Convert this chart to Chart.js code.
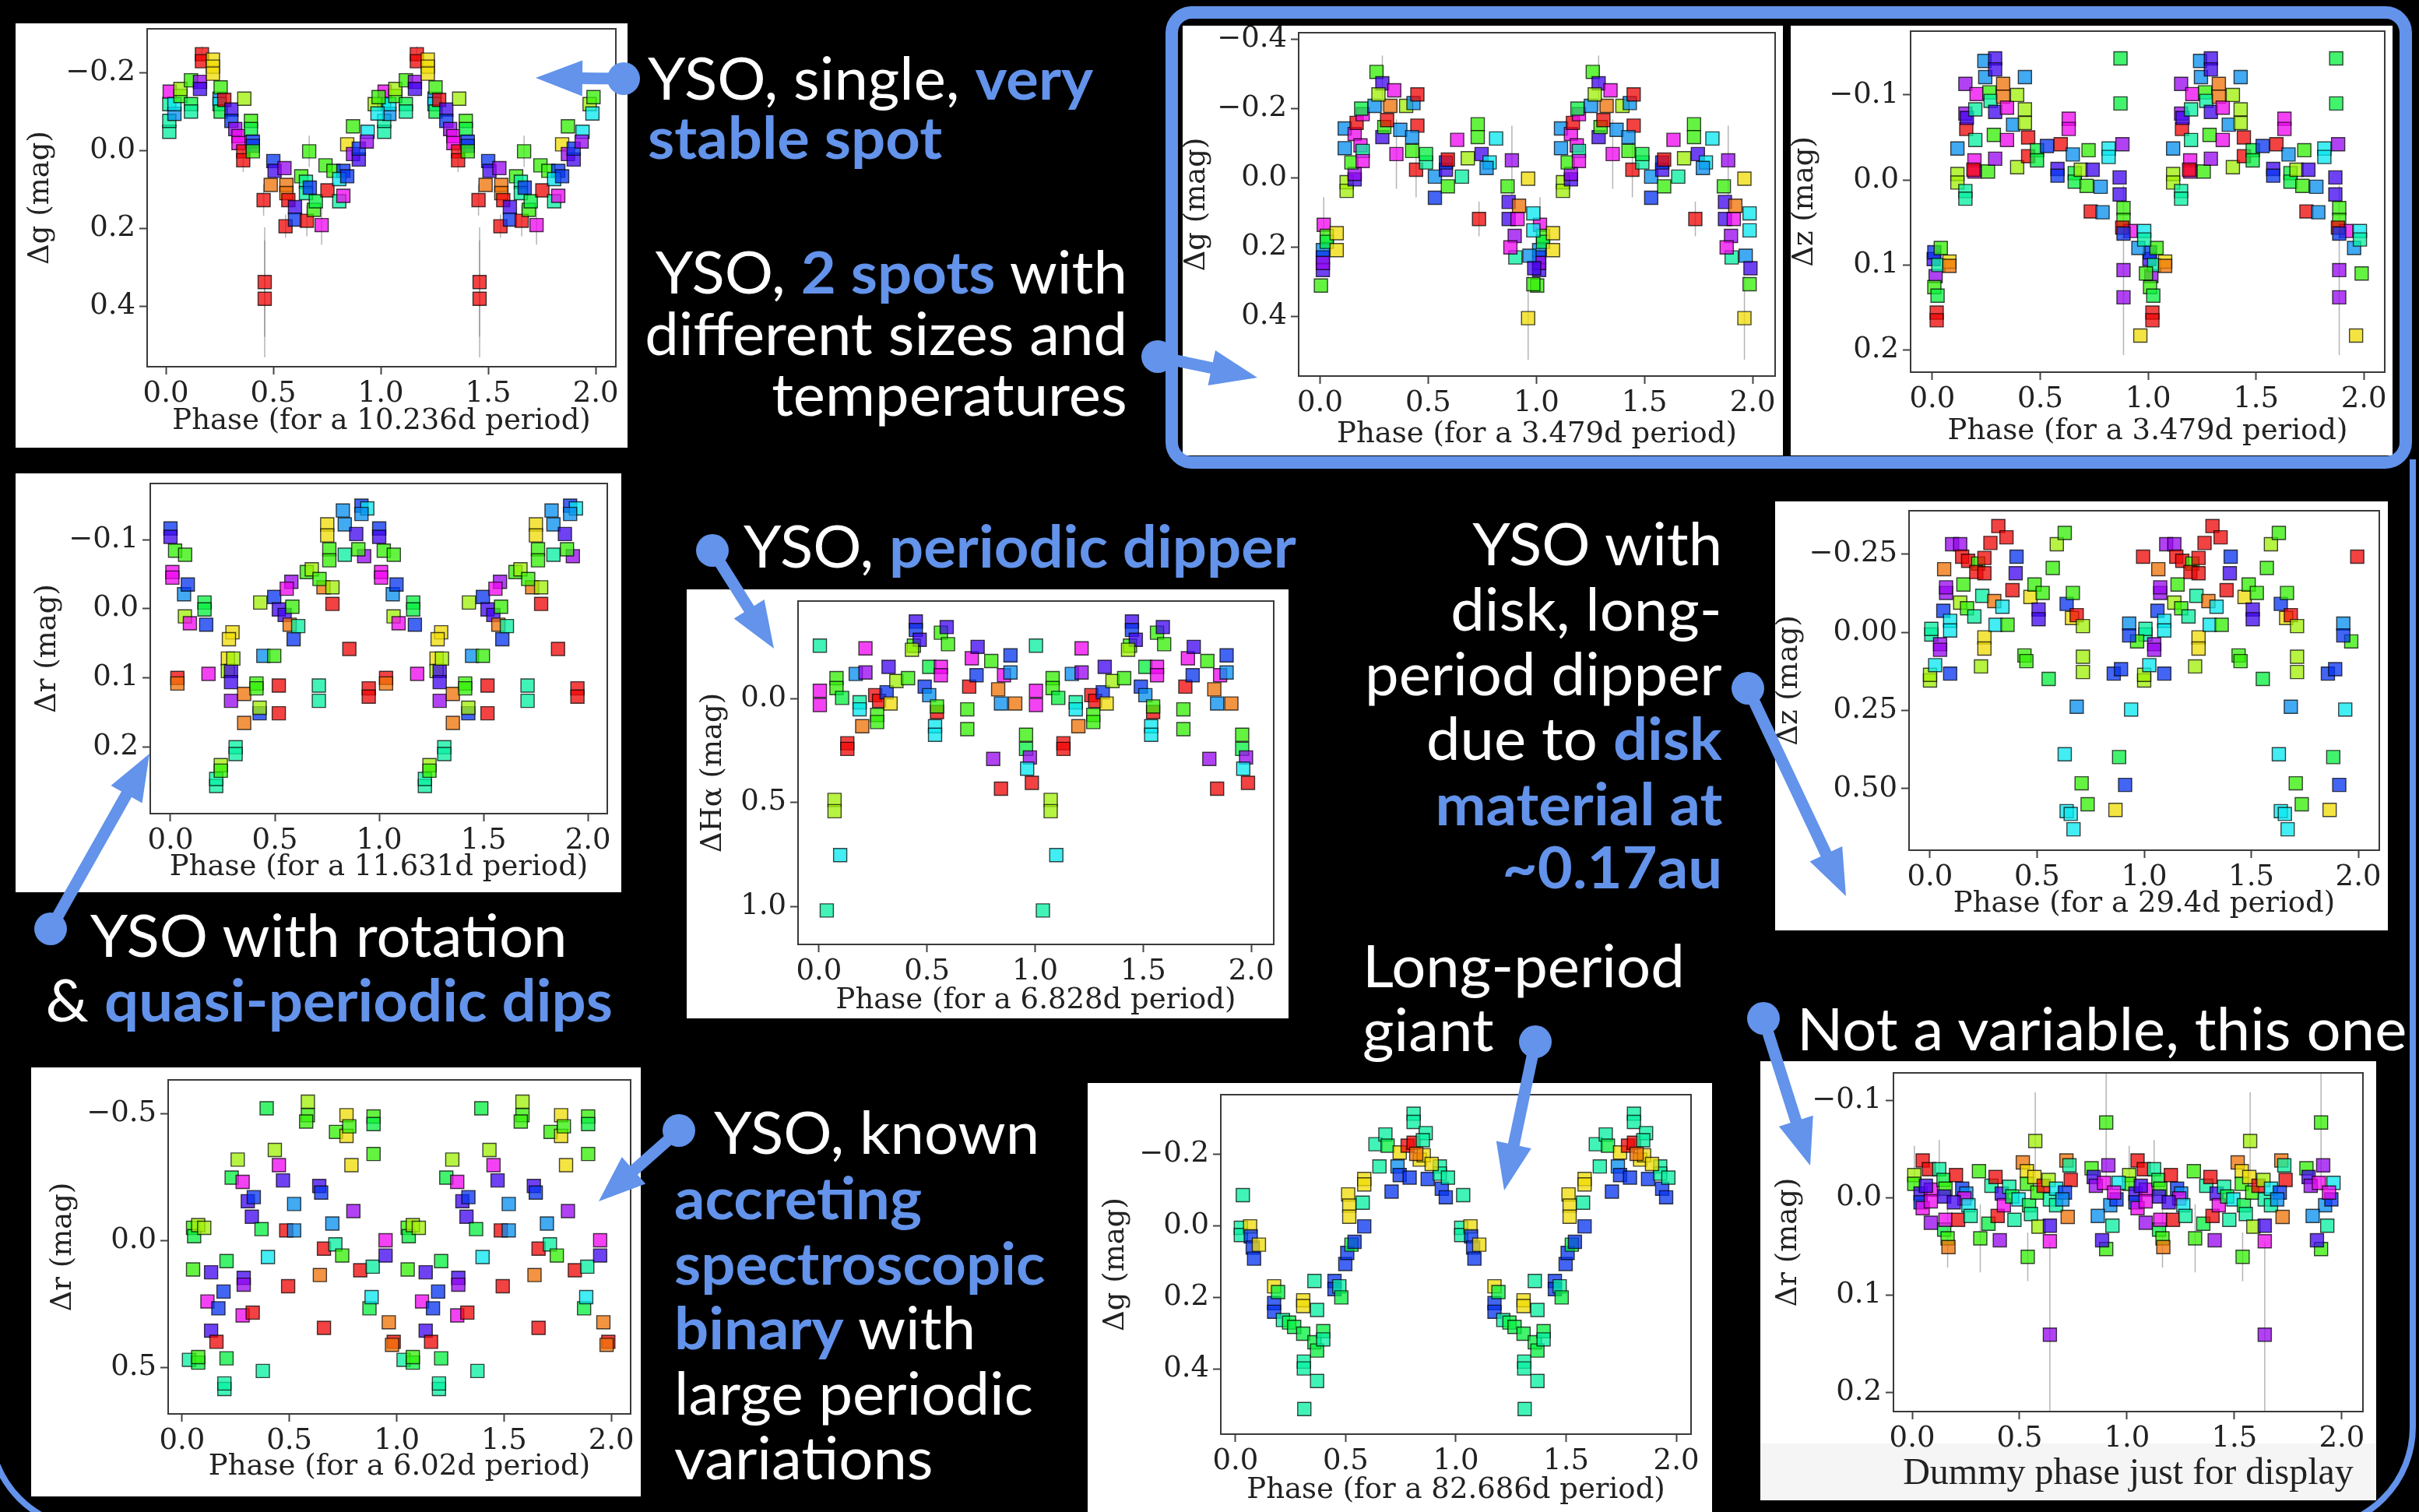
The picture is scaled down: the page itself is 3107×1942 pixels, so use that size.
<!DOCTYPE html>
<html>
<head>
<meta charset="utf-8">
<script src="https://cdn.jsdelivr.net/npm/chart.js@4.4.1/dist/chart.umd.min.js"></script>
<style>
  html, body { margin: 0; padding: 0; background: #000; }
  body { width: 3107px; height: 1942px; position: relative; overflow: hidden; }
  .panel { position: absolute; background: #fff; }
  .panel canvas { display: block; }
  .note { position: absolute; white-space: nowrap; font-family: Lato, "Noto Sans", sans-serif;
          font-size: 75px; color: #fff; z-index: 4; }
  .note b { color: #6393ea; font-weight: 700; }
  .bl { display: inline-block; width: 0; height: 0; }
  #deco { position: absolute; left: 0; top: 0; z-index: 5; }
</style>
</head>
<body>
<svg id="deco" width="3107" height="1942" xmlns="http://www.w3.org/2000/svg"></svg>
<script>
// light curves: [phase, delta mag, epoch index (colour), optional error]
const p1Points = [
  [0.016,-0.048,6],[0.016,-0.076,6],[0.016,-0.119,6],[0.018,-0.151,12],[0.04,-0.094,8],[0.04,-0.119,7],
  [0.068,-0.14,4],[0.068,-0.158,3],[0.117,-0.119,5],[0.117,-0.10,6],[0.117,-0.18,4],[0.159,-0.176,11],
  [0.159,-0.158,10],[0.168,-0.247,0,0.02],[0.168,-0.229,0],[0.219,-0.233,2],[0.219,-0.215,2],[0.219,-0.197,2],
  [0.25,-0.133,8],[0.25,-0.119,7],[0.255,-0.162,4],[0.255,-0.10,5],[0.272,-0.13,0],[0.305,-0.105,10],
  [0.305,-0.076,9],[0.323,-0.055,11],[0.338,-0.037,12],[0.338,-0.019,12],[0.36,0.002,0],[0.36,0.025,0,0.03],
  [0.365,-0.133,3],[0.396,-0.076,4],[0.396,-0.055,5],[0.405,-0.023,9],[0.405,-0.012,9],[0.405,0.002,4],
  [0.455,0.127,0,0.04],[0.46,0.337,0,0.14],[0.46,0.38,0,0.15],[0.488,0.088,1],[0.5,0.027,9],[0.506,0.052,10],
  [0.552,0.045,11],[0.561,0.088,1],[0.561,0.109,1],[0.57,0.127,0],[0.557,0.194,0,0.03],[0.601,0.145,10],
  [0.601,0.177,9],[0.63,0.066,4],[0.652,0.08,6],[0.652,0.109,6],[0.67,0.095,9],[0.667,0.002,4,0.04],
  [0.656,0.18,0,0.04],[0.689,0.152,4],[0.698,0.13,5],[0.725,0.191,12,0.05],[0.743,0.038,4],[0.752,0.102,0],
  [0.78,0.052,4],[0.807,0.13,6],[0.826,0.116,12],[0.826,0.052,9],[0.807,0.073,7],[0.844,0.066,9],
  [0.844,-0.016,2],[0.871,-0.062,4],[0.871,0.009,11],[0.898,0.023,10],[0.898,-0.005,9],[0.939,-0.048,7],
  [0.935,-0.023,11],[0.972,-0.119,3],[0.99,-0.137,4],[0.985,-0.095,7]
];
const p2aPoints = [
  [0.013,0.208,8],[0.013,0.229,9],[0.013,0.265,10],[0.013,0.245,11],[0.004,0.31,4],[0.017,0.135,12,0.08],
  [0.031,0.167,4],[0.031,0.184,5],[0.077,0.159,2],[0.077,0.208,2],[0.114,-0.143,8],[0.114,-0.086,8],
  [0.123,0.012,3],[0.123,0.037,3],[0.16,0.004,10],[0.16,-0.012,11],[0.145,-0.045,4],[0.16,-0.127,12],
  [0.187,-0.094,12],[0.169,-0.159,0],[0.197,-0.184,12],[0.19,-0.2,5],[0.197,-0.078,6],[0.197,-0.049,12],
  [0.252,-0.208,8],[0.261,-0.306,4],[0.288,-0.273,10,0.08],[0.288,-0.118,10],[0.343,-0.253,12],[0.325,-0.208,1],
  [0.297,-0.147,4],[0.27,-0.241,3],[0.353,-0.069,12,0.1],[0.31,-0.167,0],[0.371,-0.139,8],[0.398,-0.208,3],
  [0.432,-0.216,8],[0.45,-0.241,0],[0.45,-0.151,0],[0.426,-0.078,4],[0.426,-0.118,8],[0.444,-0.024,0,0.08],
  [0.49,-0.045,6],[0.49,-0.069,5],[0.531,-0.004,8],[0.531,0.057,9],[0.582,-0.024,10],[0.591,0.024,4],
  [0.582,-0.045,9],[0.591,-0.053,0],[0.634,-0.11,12],[0.656,-0.004,6],[0.683,-0.057,3],[0.729,-0.155,4],
  [0.729,-0.118,4],[0.735,0.118,0,0.05],[0.747,-0.069,10],[0.814,-0.114,7],[0.784,-0.045,7],[0.77,-0.029,8],
  [0.887,-0.051,11,0.1],[0.867,0.024,4],[0.872,0.069,10],[0.872,0.118,10],[0.913,0.118,12],[0.9,0.167,11],
  [0.903,0.229,6],[0.962,0.002,2],[0.962,0.404,2,0.12],[0.986,0.102,7],[0.986,0.151,7],[0.968,0.224,8],
  [0.986,0.306,4],[0.99,0.26,10],[0.92,0.08,1],[0.88,0.2,12]
];
const p2bPoints = [
  [0.006,0.093,10],[0.009,0.085,9],[0.015,0.113,11],[0.009,0.126,4],[0.024,0.136,5],[0.02,0.156,0],
  [0.02,0.165,0],[0.028,0.1,6],[0.039,0.08,4],[0.079,0.096,2],[0.079,0.101,1],[0.116,-0.037,8],
  [0.116,-0.007,3],[0.116,0.003,3],[0.153,0.013,6],[0.153,0.022,6],[0.153,-0.078,11],[0.153,-0.113,11],
  [0.157,-0.06,0],[0.16,-0.073,10],[0.199,-0.083,6],[0.199,-0.047,6],[0.195,-0.023,12],[0.195,-0.01,12],
  [0.19,-0.012,0],[0.205,-0.101,12],[0.241,-0.14,8],[0.245,-0.121,8],[0.258,-0.01,4],[0.264,-0.103,4],
  [0.27,-0.093,6],[0.291,-0.143,10],[0.291,-0.13,10],[0.291,-0.08,10],[0.291,-0.025,11],[0.285,-0.053,4],
  [0.328,-0.113,1],[0.328,-0.098,1],[0.346,-0.085,12],[0.346,-0.047,12],[0.374,-0.065,8],[0.393,-0.015,3],
  [0.393,-0.1,3],[0.429,-0.083,3],[0.429,-0.067,3],[0.429,-0.121,8],[0.444,-0.05,0],[0.444,-0.028,0],
  [0.485,-0.035,5],[0.485,-0.023,5],[0.531,-0.04,9],[0.595,-0.042,0],[0.632,-0.072,12],[0.632,-0.06,12],
  [0.58,-0.013,10],[0.58,-0.005,9],[0.651,-0.03,8],[0.66,-0.008,5],[0.66,0.002,5],[0.688,-0.012,3],
  [0.715,0.007,4],[0.724,-0.035,4],[0.743,-0.012,10],[0.734,0.037,0],[0.78,0.008,8],[0.817,-0.037,7],
  [0.817,-0.027,7],[0.789,0.038,8],[0.872,-0.143,5],[0.872,-0.09,5],[0.881,-0.042,11],[0.868,-0.003,10],
  [0.868,0.017,10],[0.886,0.033,4],[0.886,0.047,4],[0.886,0.106,11,0.1],[0.886,0.138,11],[0.918,0.06,12],
  [0.88,0.056,0],[0.886,0.063,9],[0.955,0.08,8],[0.982,0.06,7],[0.982,0.07,6],[0.964,0.183,2],[0.99,0.11,4]
];
const p3Points = [
  [0.0,-0.116,9],[0.0,-0.104,10],[0.009,-0.053,12],[0.009,-0.045,12],[0.022,-0.084,4],[0.07,-0.078,4],
  [0.065,-0.021,8],[0.083,-0.035,9],[0.069,0.011,3],[0.093,0.021,12],[0.033,0.1,0],[0.033,0.108,1],
  [0.163,-0.009,5],[0.163,0.001,5],[0.171,0.023,9],[0.182,0.094,12],[0.219,0.256,6],[0.219,0.246,6],
  [0.241,0.226,3],[0.241,0.234,4],[0.275,0.072,2],[0.297,0.034,2],[0.28,0.044,2],[0.275,0.09,3],
  [0.29,0.09,10],[0.29,0.106,10],[0.29,0.133,11],[0.312,0.2,6],[0.312,0.21,6],[0.301,0.072,3],
  [0.353,0.123,1],[0.353,0.165,1],[0.412,0.108,4],[0.412,0.115,4],[0.427,0.151,9],[0.427,0.143,3],
  [0.43,-0.009,3],[0.445,0.068,8],[0.497,0.068,4],[0.519,0.111,0],[0.519,0.151,0],[0.497,-0.017,9],
  [0.519,0.001,10],[0.547,0.009,10],[0.571,0.023,1],[0.584,-0.003,4],[0.59,0.044,9],[0.612,0.025,6],
  [0.579,-0.039,11],[0.557,-0.029,12],[0.653,-0.053,4],[0.677,-0.057,3],[0.733,-0.031,1],[0.714,-0.043,4],
  [0.711,0.111,6],[0.711,0.133,6],[0.751,-0.122,2],[0.751,-0.106,2],[0.761,-0.086,4],[0.761,-0.07,4],
  [0.776,-0.007,0],[0.776,-0.031,3],[0.857,0.058,0],[0.826,-0.142,8],[0.835,-0.122,8],[0.835,-0.078,6],
  [0.915,-0.149,9],[0.943,-0.145,7],[0.915,-0.137,8],[0.89,-0.108,10],[0.928,-0.076,11],[0.9,-0.086,4],
  [0.95,0.115,0],[0.95,0.127,0]
];
const p4Points = [
  [0.004,-0.254,6],[0.004,-0.037,12],[0.004,0.031,12],[0.036,1.018,6],[0.072,0.487,3],[0.072,0.541,3],
  [0.098,0.752,7],[0.081,-0.098,4],[0.081,-0.05,4],[0.107,-0.003,5],[0.131,0.215,0],[0.131,0.242,0],
  [0.17,-0.118,8],[0.188,0.018,6],[0.188,0.052,7],[0.215,-0.125,11],[0.215,-0.241,12],[0.2,0.133,1],
  [0.26,-0.016,0],[0.278,0.011,0],[0.269,0.079,4],[0.269,0.113,4],[0.313,-0.03,9],[0.322,-0.152,10],
  [0.331,0.024,2],[0.358,-0.084,3],[0.412,-0.098,4],[0.439,-0.254,4],[0.448,-0.37,10],[0.448,-0.329,9],
  [0.466,-0.282,10],[0.43,-0.234,3],[0.489,-0.057,9],[0.51,-0.016,8],[0.537,0.133,7],[0.537,0.174,7],
  [0.546,0.065,0],[0.546,0.038,4],[0.51,-0.152,5],[0.564,-0.152,12],[0.564,-0.112,12],[0.564,-0.316,4],
  [0.591,-0.343,10],[0.597,-0.261,4],[0.686,0.052,4],[0.686,0.147,4],[0.695,-0.057,0],[0.707,-0.193,12],
  [0.734,-0.248,10],[0.729,-0.112,9],[0.797,-0.18,4],[0.806,0.29,11],[0.842,0.433,0],[0.829,-0.044,1],
  [0.842,0.024,8],[0.856,-0.112,12],[0.886,-0.207,9],[0.886,-0.125,8],[0.908,0.024,1],[0.958,0.174,4],
  [0.958,0.242,5],[0.976,0.283,11],[0.963,0.337,7],[0.985,0.405,0]
];
const p5Points = [
  [0.0,0.154,3],[0.0,0.136,3],[0.006,0.007,6],[0.006,-0.011,6],[0.024,0.105,7],[0.047,0.038,11],
  [0.047,0.056,11],[0.066,-0.202,1],[0.062,-0.069,9],[0.094,-0.037,7],[0.094,-0.006,7],[0.094,0.132,9],
  [0.075,-0.126,11],[0.075,-0.144,11],[0.103,-0.282,11],[0.141,-0.282,11],[0.15,-0.242,0],[0.178,-0.229,0],
  [0.156,-0.153,4],[0.141,-0.095,3],[0.173,-0.077,4],[0.207,-0.051,6],[0.225,-0.22,4],[0.216,-0.193,0],
  [0.254,-0.238,0],[0.254,-0.189,0],[0.244,-0.117,6],[0.238,0.109,3],[0.254,0.016,2],[0.254,0.052,2],
  [0.282,-0.286,0],[0.3,-0.1,1],[0.319,-0.34,0],[0.338,-0.082,7],[0.306,-0.024,7],[0.357,-0.304,0],
  [0.362,-0.024,4],[0.385,-0.135,0],[0.404,-0.242,9],[0.4,-0.189,10],[0.441,0.074,4],[0.45,0.092,4],
  [0.469,-0.113,2],[0.488,-0.153,4],[0.526,-0.126,4],[0.507,-0.073,10],[0.507,-0.042,10],[0.554,0.149,5],
  [0.573,-0.206,4],[0.592,-0.282,3],[0.629,-0.318,4],[0.629,0.39,7],[0.638,-0.091,9],[0.667,-0.126,4],
  [0.663,-0.046,2],[0.685,-0.055,0],[0.714,-0.02,3],[0.714,0.078,3],[0.714,0.127,3],[0.685,0.238,8],
  [0.638,0.572,7],[0.657,0.581,7],[0.67,0.63,7],[0.708,0.483,4],[0.736,0.55,4],[0.866,0.568,2],
  [0.883,0.399,5],[0.911,0.488,9],[0.858,0.132,9],[0.892,0.118,9],[0.93,-0.028,8],[0.939,0.247,7],
  [0.995,-0.242,0],[0.967,0.029,4],[0.93,0.01,9]
];
const p6Points = [
  [0.032,0.469,6],[0.075,0.48,5],[0.075,0.458,4],[0.051,-0.051,4],[0.056,-0.018,5],[0.075,-0.062,3],
  [0.103,-0.051,3],[0.051,0.113,4],[0.135,0.124,10],[0.135,0.354,10],[0.118,0.239,12],[0.16,0.398,0],
  [0.169,0.266,9],[0.193,0.2,9],[0.197,0.584,6],[0.197,0.562,6],[0.207,0.08,5],[0.207,0.463,5],
  [0.231,-0.249,5],[0.259,-0.32,3],[0.282,-0.232,12],[0.282,0.294,12],[0.287,0.146,10],[0.287,0.173,11],
  [0.329,0.283,0],[0.306,-0.156,10],[0.334,-0.172,9],[0.325,-0.095,10],[0.37,-0.046,5],[0.4,0.064,7],
  [0.376,0.513,6],[0.394,-0.522,5],[0.432,-0.358,3],[0.451,-0.298,12],[0.47,-0.238,10],[0.485,-0.041,0],
  [0.494,0.179,0],[0.522,-0.145,8],[0.522,-0.041,8],[0.586,-0.548,3],[0.586,-0.495,4],[0.578,-0.47,4],
  [0.639,-0.216,10],[0.648,-0.19,9],[0.661,0.031,0],[0.661,0.343,0],[0.642,0.135,1],[0.7,-0.068,8],
  [0.714,0.014,6],[0.746,0.058,4],[0.717,-0.429,4],[0.766,-0.495,2],[0.766,-0.413,2],[0.789,-0.298,2],
  [0.779,-0.451,4],[0.798,-0.117,11],[0.83,0.116,0],[0.892,-0.49,4],[0.892,-0.46,5],[0.892,-0.342,4],
  [0.888,0.102,6],[0.873,0.266,5],[0.883,0.222,7],[0.948,-0.002,12],[0.948,0.058,10],[0.963,0.321,1],
  [0.986,0.398,0],[0.978,0.41,1]
];
const p7Points = [
  [0.033,-0.085,6],[0.024,0.006,6],[0.024,0.026,6],[0.066,0.002,2],[0.069,0.03,9],[0.078,0.061,9],
  [0.084,0.092,9],[0.106,0.053,2],[0.175,0.169,2],[0.175,0.216,9],[0.175,0.24,9],[0.193,0.185,5],
  [0.215,0.263,6],[0.243,0.27,5],[0.266,0.282,5],[0.307,0.301,5],[0.307,0.208,2],[0.307,0.224,2],
  [0.31,0.379,6],[0.31,0.398,6],[0.312,0.511,6],[0.358,0.154,6],[0.358,0.325,5],[0.37,0.348,5],
  [0.37,0.433,6],[0.398,0.294,5],[0.398,0.317,6],[0.37,0.235,6],[0.449,0.154,9],[0.449,0.177,9],
  [0.471,0.169,6],[0.48,0.2,5],[0.498,0.107,9],[0.507,0.076,9],[0.511,-0.087,2],[0.516,-0.056,2],
  [0.516,-0.025,2],[0.526,0.053,5],[0.54,0.045,9],[0.577,-0.064,6],[0.584,0.002,9],[0.584,-0.13,2],
  [0.584,-0.115,2],[0.635,-0.227,6],[0.653,-0.165,6],[0.68,-0.254,6],[0.69,-0.223,5],[0.708,-0.095,9],
  [0.735,-0.165,8],[0.745,-0.204,2],[0.745,-0.141,9],[0.781,-0.223,0],[0.808,-0.231,0],[0.808,-0.312,6],
  [0.808,-0.289,6],[0.836,-0.184,2],[0.854,-0.196,2],[0.863,-0.258,6],[0.79,-0.134,9],[0.872,-0.13,9],
  [0.85,-0.238,6],[0.927,-0.165,6],[0.927,-0.145,6],[0.936,-0.103,9],[0.954,-0.079,9],[0.964,-0.134,6],
  [0.89,-0.172,2],[0.82,-0.2,1]
];
const p8Points = [
  [0.01,-0.023,3,0.03],[0.01,-0.014,4],[0.049,-0.038,0],[0.078,-0.029,0],[0.039,-0.004,10],[0.039,0.005,9],
  [0.049,0.011,12],[0.087,-0.008,12],[0.087,0.004,12],[0.087,0.026,11],[0.064,-0.012,10],[0.126,-0.029,6,0.03],
  [0.146,-0.018,5],[0.155,-0.009,4],[0.149,0.033,5],[0.165,0.042,4,0.03],[0.169,0.051,1],[0.155,0.023,12],
  [0.149,-0.001,10],[0.204,-0.023,0],[0.214,0.023,0],[0.233,-0.009,9],[0.252,-0.004,8],[0.243,0.001,12],
  [0.194,0.005,10],[0.262,0.008,7],[0.272,0.019,6],[0.311,-0.027,4],[0.317,0.042,4,0.035],[0.355,0.027,5],
  [0.369,-0.012,6],[0.388,-0.021,0],[0.398,0.019,0],[0.408,0.044,11],[0.417,-0.004,10],[0.427,0.008,12],
  [0.452,-0.011,6],[0.476,0.023,6],[0.466,-0.001,5],[0.495,0.002,7],[0.515,-0.036,1],[0.534,-0.027,2],
  [0.534,-0.014,4],[0.538,0.061,4,0.025],[0.544,0.008,5],[0.569,-0.021,2],[0.573,-0.058,3,0.05],[0.583,-0.005,4],
  [0.553,0.017,6],[0.588,0.03,3],[0.612,-0.012,0],[0.635,-0.018,3],[0.641,0.002,6],[0.641,0.141,11,0.095],
  [0.641,0.029,10],[0.641,0.045,12],[0.67,0.008,6],[0.67,-0.009,7],[0.718,-0.038,1],[0.724,0.02,1],
  [0.738,-0.018,0],[0.732,-0.033,6],[0.711,-0.005,9],[0.699,0.002,8],[0.835,-0.03,4],[0.845,-0.021,10],
  [0.855,-0.012,11],[0.893,-0.015,12],[0.903,-0.077,4,0.07],[0.903,0.053,4],[0.884,0.044,10],[0.913,-0.033,11],
  [0.922,0.008,8],[0.932,0.029,6],[0.864,0.019,8],[0.951,0.002,9],[0.961,-0.015,7],[0.94,-0.005,12]
];

const phaseTicks = [0, 0.5, 1.0, 1.5, 2.0];
const p1YTicks = [-0.2, 0, 0.2, 0.4];
const p2aYTicks = [-0.4, -0.2, 0, 0.2, 0.4];
const p2bYTicks = [-0.1, 0, 0.1, 0.2];
const p3YTicks = [-0.1, 0, 0.1, 0.2];
const p4YTicks = [0, 0.5, 1.0];
const p5YTicks = [-0.25, 0, 0.25, 0.5];
const p6YTicks = [-0.5, 0, 0.5];
const p7YTicks = [-0.2, 0, 0.2, 0.4];
const p8YTicks = [-0.1, 0, 0.1, 0.2];

const SERIF = '"DejaVu Serif", "Liberation Serif", serif';
const TIMES = '"Liberation Serif", "DejaVu Serif", serif';
const HUES = [0, 28, 55, 80, 108, 135, 160, 182, 205, 228, 255, 278, 300];
const BLUE = '#6393ea';

// panel boxes and plot areas in page pixels
const PANELS = [
  { pts: p1Points, box: [20, 30, 786, 545], plot: [189, 37, 791, 471], x: [-0.087, 2.094], y: [-0.312, 0.554],
    yt: p1YTicks, dec: 1, yl: 'Δg (mag)', xl: 'Phase (for a 10.236d period)', xPad: 15, yPad: 14 },
  { pts: p2aPoints, box: [1519, 33, 771, 552], plot: [1668, 42, 2280, 483], x: [-0.099, 2.104], y: [-0.419, 0.571],
    yt: p2aYTicks, dec: 1, yl: 'Δg (mag)', xl: 'Phase (for a 3.479d period)', xPad: 8, yPad: 0 },
  { pts: p2bPoints, box: [2300, 33, 773, 552], plot: [2454, 40, 3063, 478], x: [-0.101, 2.097], y: [-0.175, 0.226],
    yt: p2bYTicks, dec: 1, yl: 'Δz (mag)', xl: 'Phase (for a 3.479d period)', xPad: 12, yPad: 0 },
  { pts: p3Points, box: [20, 608, 778, 538], plot: [193, 621, 780, 1045], x: [-0.097, 2.093], y: [-0.181, 0.296],
    yt: p3YTicks, dec: 1, yl: 'Δr (mag)', xl: 'Phase (for a 11.631d period)', xPad: 13, yPad: 23 },
  { pts: p4Points, box: [882, 757, 773, 551], plot: [1025, 772, 1636, 1213], x: [-0.097, 2.104], y: [-0.468, 1.181],
    yt: p4YTicks, dec: 1, yl: 'ΔHα (mag)', xl: 'Phase (for a 6.828d period)', xPad: 4, yPad: 16 },
  { pts: p5Points, box: [2280, 644, 787, 551], plot: [2452, 656, 3056, 1092], x: [-0.098, 2.098], y: [-0.389, 0.697],
    yt: p5YTicks, dec: 2, yl: 'Δz (mag)', xl: 'Phase (for a 29.4d period)', xPad: 15, yPad: 0 },
  { pts: p6Points, box: [40, 1371, 783, 551], plot: [216, 1387, 810, 1816], x: [-0.065, 2.09], y: [-0.634, 0.682],
    yt: p6YTicks, dec: 1, yl: 'Δr (mag)', xl: 'Phase (for a 6.02d period)', xPad: 19, yPad: 23 },
  { pts: p7Points, box: [1397, 1391, 802, 551], plot: [1568, 1406, 2172, 1842], x: [-0.067, 2.067], y: [-0.365, 0.581],
    yt: p7YTicks, dec: 1, yl: 'Δg (mag)', xl: 'Phase (for a 82.686d period)', xPad: 9, yPad: 18 },
  { pts: p8Points, box: [2261, 1363, 791, 564], plot: [2432, 1378, 3035, 1813], x: [-0.087, 2.098], y: [-0.128, 0.22],
    yt: p8YTicks, dec: 1, yl: 'Δr (mag)', xl: 'Dummy phase just for display', xPad: 10, yPad: 18,
    xFont: { family: TIMES, size: 48, lineHeight: 1 }, strip: 491 }
];

const fmt = (v, d) => (v < 0 ? '\u2212' : '') + Math.abs(v).toFixed(d);

// phase-folded curves are shown twice, phase and phase + 1
const fold = pts => pts.flatMap(p => [0, 1].map(k => ({ x: p[0] + k, y: p[1], e: p[2], err: p[3] || 0 })));

const framePlugin = {
  id: 'frame',
  afterDraw(chart) {
    const { ctx, chartArea: a } = chart;
    ctx.save();
    ctx.strokeStyle = '#3a3a3a';
    ctx.lineWidth = 2;
    ctx.strokeRect(a.left, a.top, a.right - a.left, a.bottom - a.top);
    ctx.restore();
  }
};

const errPlugin = {
  id: 'errbars',
  beforeDatasetsDraw(chart) {
    const { ctx, chartArea: a, scales: { x, y } } = chart;
    ctx.save();
    ctx.beginPath();
    ctx.rect(a.left, a.top, a.right - a.left, a.bottom - a.top);
    ctx.clip();
    ctx.strokeStyle = 'rgba(120,120,120,0.55)';
    ctx.lineWidth = 1.5;
    chart.data.datasets[0].data.forEach(p => {
      if (!p.err) return;
      const px = x.getPixelForValue(p.x);
      ctx.beginPath();
      ctx.moveTo(px, y.getPixelForValue(p.y - p.err));
      ctx.lineTo(px, y.getPixelForValue(p.y + p.err));
      ctx.stroke();
    });
    ctx.restore();
  }
};

function makePanel(p) {
  const [bx, by, bw, bh] = p.box;
  const [pl, pt, pr, pb] = p.plot;
  const div = document.createElement('div');
  div.className = 'panel';
  div.style.cssText = `left:${bx}px;top:${by}px;width:${bw}px;height:${bh}px;`;
  if (p.strip) div.style.background = `linear-gradient(#fff 0, #fff ${p.strip}px, #f5f5f5 ${p.strip}px)`;
  const cv = document.createElement('canvas');
  cv.width = bw;
  cv.height = bh;
  div.appendChild(cv);
  document.body.appendChild(div);

  const tickFont = { family: SERIF, size: 37 };
  const grid = { drawOnChartArea: false, drawTicks: true, tickLength: 10, tickWidth: 2, tickColor: '#444' };

  new Chart(cv, {
    type: 'scatter',
    data: {
      datasets: [{
        data: fold(p.pts),
        pointStyle: 'rect',
        pointRadius: 12,
        backgroundColor: c => `hsla(${HUES[c.raw.e]}, 95%, 48%, 0.76)`,
        borderColor: 'rgba(0,0,0,0.72)',
        borderWidth: 1.4
      }]
    },
    options: {
      responsive: false,
      animation: false,
      devicePixelRatio: 1,
      events: [],
      layout: { autoPadding: false, padding: { left: 0, bottom: 0, top: pt - by, right: bx + bw - pr } },
      plugins: { legend: { display: false }, tooltip: { enabled: false } },
      scales: {
        x: {
          type: 'linear', min: p.x[0], max: p.x[1],
          afterBuildTicks: s => { s.ticks = phaseTicks.map(v => ({ value: v })); },
          afterFit: s => { s.height = by + bh - pb; s.paddingLeft = 0; s.paddingRight = 0; },
          grid, border: { display: false },
          ticks: { font: tickFont, color: '#222', padding: 3, maxRotation: 0, autoSkip: false,
                   callback: v => fmt(v, 1) },
          title: { display: true, text: p.xl, color: '#222',
                   font: p.xFont || { family: SERIF, size: 37, lineHeight: 1 },
                   padding: { top: 0, bottom: p.xPad } }
        },
        y: {
          type: 'linear', reverse: true, min: p.y[0], max: p.y[1],
          afterBuildTicks: s => { s.ticks = p.yt.map(v => ({ value: v })); },
          afterFit: s => { s.width = pl - bx; s.paddingTop = 0; s.paddingBottom = 0; },
          grid, border: { display: false },
          ticks: { font: tickFont, color: '#222', padding: 5, autoSkip: false, callback: v => fmt(v, p.dec) },
          title: { display: true, text: p.yl, color: '#222', font: { family: SERIF, size: 37, lineHeight: 1 },
                   padding: { top: p.yPad, bottom: 0 } }
        }
      }
    },
    plugins: [errPlugin, framePlugin]
  });
}
PANELS.forEach(makePanel);

// annotation text: [x, baseline, align, html]
const NOTES = [
  [832, 128, 'left', 'YSO, single, <b>very</b>'],
  [832, 204, 'left', '<b>stable spot</b>'],
  [1448, 377, 'right', 'YSO, <b>2 spots</b> with'],
  [1448, 456, 'right', 'different sizes and'],
  [1448, 534, 'right', 'temperatures'],
  [955, 729, 'left', 'YSO, <b>periodic dipper</b>'],
  [2212, 726, 'right', 'YSO with'],
  [2212, 810, 'right', 'disk, long-'],
  [2212, 893, 'right', 'period dipper'],
  [2212, 976, 'right', 'due to <b>disk</b>'],
  [2212, 1060, 'right', '<b>material at</b>'],
  [2212, 1141, 'right', '<b>~0.17au</b>'],
  [422, 1229, 'center', 'YSO with rotation'],
  [422, 1312, 'center', '&amp; <b>quasi-periodic dips</b>'],
  [917, 1482, 'left', 'YSO, known'],
  [866, 1566, 'left', '<b>accreting</b>'],
  [866, 1650, 'left', '<b>spectroscopic</b>'],
  [866, 1733, 'left', '<b>binary</b> with'],
  [866, 1817, 'left', 'large periodic'],
  [866, 1900, 'left', 'variations'],
  [1750, 1268, 'left', 'Long-period'],
  [1750, 1350, 'left', 'giant'],
  [2308, 1349, 'left', 'Not a variable, this one']
];
const noteEls = NOTES.map(([x, base, align, html]) => {
  const d = document.createElement('div');
  d.className = 'note';
  d.innerHTML = html + '<span class="bl"></span>';
  document.body.appendChild(d);
  return d;
});
// squeeze the substitute font to the width of the original lettering
const refW = noteEls[3].getBoundingClientRect().width;
const k = 620 / refW;
NOTES.forEach(([x, base, align], i) => {
  const d = noteEls[i];
  const w = d.offsetWidth;
  const off = d.querySelector('.bl').offsetTop;
  d.style.top = (base - off) + 'px';
  const origin = align === 'left' ? 0 : align === 'right' ? w : w / 2;
  d.style.left = (x - origin) + 'px';
  d.style.transformOrigin = `${origin}px 0`;
  d.style.transform = `scaleX(${k})`;
});

// blue frames and pointer arrows
const svg = document.getElementById('deco');
const NS = 'http://www.w3.org/2000/svg';
function el(tag, attrs) {
  const e = document.createElementNS(NS, tag);
  for (const a in attrs) e.setAttribute(a, attrs[a]);
  svg.appendChild(e);
  return e;
}
el('rect', { x: 1505, y: 16, width: 1585, height: 578, rx: 26, fill: 'none', stroke: BLUE, 'stroke-width': 16 });
el('path', { d: 'M 3099 590 L 3099 1833 A 130 130 0 0 1 2969 1963', fill: 'none', stroke: BLUE, 'stroke-width': 8 });
el('path', { d: 'M 117 1963 A 130 130 0 0 1 -13 1833', fill: 'none', stroke: BLUE, 'stroke-width': 8 });

const ARROWS = [
  [801, 101, 688, 100], [1487, 458, 1615, 485], [65, 1193, 192, 968], [915, 707, 994, 833],
  [2245, 884, 2371, 1151], [872, 1452, 769, 1543], [1972, 1338, 1932, 1529], [2265, 1308, 2325, 1497]
];
ARROWS.forEach(([x1, y1, x2, y2]) => {
  const len = Math.hypot(x2 - x1, y2 - y1);
  const ux = (x2 - x1) / len, uy = (y2 - y1) / len;
  const L = 60, H = 23;
  const bx = x2 - ux * L, by = y2 - uy * L;
  el('line', { x1, y1, x2: bx + ux * 2, y2: by + uy * 2, stroke: BLUE, 'stroke-width': 15 });
  el('polygon', { points: `${x2},${y2} ${bx - uy * H},${by + ux * H} ${bx + uy * H},${by - ux * H}`, fill: BLUE });
  el('circle', { cx: x1, cy: y1, r: 21, fill: BLUE });
});
</script>
</body>
</html>
